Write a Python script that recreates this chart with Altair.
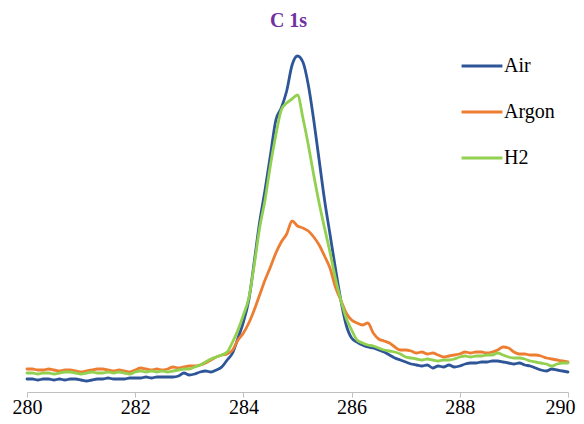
import altair as alt
import pandas as pd

series_names = ["Air", "Argon", "H2"]
colors = ["#2E5597", "#ED7D31", "#92D050"]

# binding energy grid (eV), 0.1 eV steps from 280 to 290
energy = [round(280 + 0.1 * i, 1) for i in range(101)]

air = [13, 13, 12, 13, 13, 12, 13, 12, 13, 13,
       12, 11, 12, 13, 13, 14, 13, 13, 13, 14,
       14, 14, 15, 14, 15, 15, 15, 15, 16, 19,
       17, 18, 20, 21, 20, 22, 25, 32, 39, 54,
       70, 92, 130, 170, 202, 237, 272, 284, 301, 327,
       336, 330, 307, 272, 232, 192, 158, 124, 92, 67,
       54, 50, 47, 45, 44, 42, 40, 37, 34, 32,
       30, 28, 27, 26, 27, 24, 26, 25, 27, 25,
       26, 28, 29, 29, 30, 30, 31, 31, 30, 29,
       28, 29, 27, 26, 24, 22, 21, 23, 22, 21, 20]

argon = [23, 23, 22, 22, 23, 22, 21, 22, 22, 21,
         20, 21, 22, 23, 23, 22, 21, 22, 21, 20,
         22, 24, 23, 22, 23, 22, 23, 25, 24, 25,
         26, 26, 27, 29, 32, 35, 37, 38, 42, 52,
         59, 69, 82, 97, 112, 125, 139, 150, 158, 171,
         166, 164, 161, 155, 147, 136, 124, 105, 92, 79,
         72, 69, 67, 69, 59, 53, 51, 49, 45, 42,
         42, 41, 39, 40, 38, 39, 37, 35, 36, 37,
         38, 40, 39, 40, 40, 39, 40, 42, 45, 44,
         40, 38, 38, 37, 37, 36, 34, 33, 32, 31, 30]

h2 = [19, 19, 18, 19, 19, 18, 19, 20, 20, 19,
      18, 19, 20, 19, 19, 20, 19, 20, 19, 18,
      20, 21, 20, 21, 20, 21, 20, 21, 22, 23,
      23, 25, 27, 30, 33, 35, 37, 40, 50, 62,
      77, 94, 127, 164, 192, 227, 257, 282, 289, 293,
      297, 274, 247, 217, 189, 164, 140, 114, 92, 74,
      62, 52, 49, 47, 46, 44, 42, 41, 40, 38,
      35, 34, 33, 32, 33, 32, 31, 32, 32, 33,
      35, 36, 35, 36, 36, 37, 37, 39, 37, 35,
      34, 34, 33, 31, 30, 29, 28, 26, 28, 29, 29]

x_ticks = [280, 282, 284, 286, 288, 290]

rows = []
for name, vals in zip(series_names, [air, argon, h2]):
    for e, v in zip(energy, vals):
        rows.append({"energy": e, "intensity": v, "series": name})
df = pd.DataFrame(rows)

serif = "Liberation Serif"

chart = alt.Chart(df).mark_line(
    strokeWidth=2.8, strokeCap="round", strokeJoin="round", interpolate="monotone"
).encode(
    x=alt.X("energy:Q",
            scale=alt.Scale(domain=[280, 290], nice=False, zero=False),
            axis=alt.Axis(values=x_ticks, title=None, grid=False,
                          domainColor="#BFBFBF", tickColor="#BFBFBF",
                          tickSize=5, labelFont=serif, labelFontSize=20,
                          labelColor="#000000", labelPadding=16,
                          labelBaseline="alphabetic",
                          labelOffset={"condition": {"test": "datum.value === 290", "value": -8},
                                       "value": 0},
                          labelFlush=False, format="d")),
    y=alt.Y("intensity:Q",
            scale=alt.Scale(domain=[0, 340], nice=False),
            axis=None),
    color=alt.Color("series:N",
                    scale=alt.Scale(domain=series_names, range=colors),
                    legend=alt.Legend(title=None, orient="none",
                                      legendX=433, legendY=-8,
                                      symbolType="stroke", symbolSize=1670,
                                      symbolStrokeWidth=3,
                                      labelFont=serif, labelFontSize=20,
                                      labelColor="#000000", labelOffset=0,
                                      rowPadding=14)),
).properties(
    width=541,
    height=340,
    padding={"left": 19, "top": 44, "right": 8, "bottom": 24},
    autosize=alt.AutoSizeParams(type="none"),
    title=alt.TitleParams("C 1s", font=serif, fontSize=20, fontWeight="bold",
                          color="#7030A0", anchor="middle", dx=-9, offset=13),
).configure_view(stroke=None)

chart.save("out.html", embed_options={"renderer": "svg", "actions": False})
